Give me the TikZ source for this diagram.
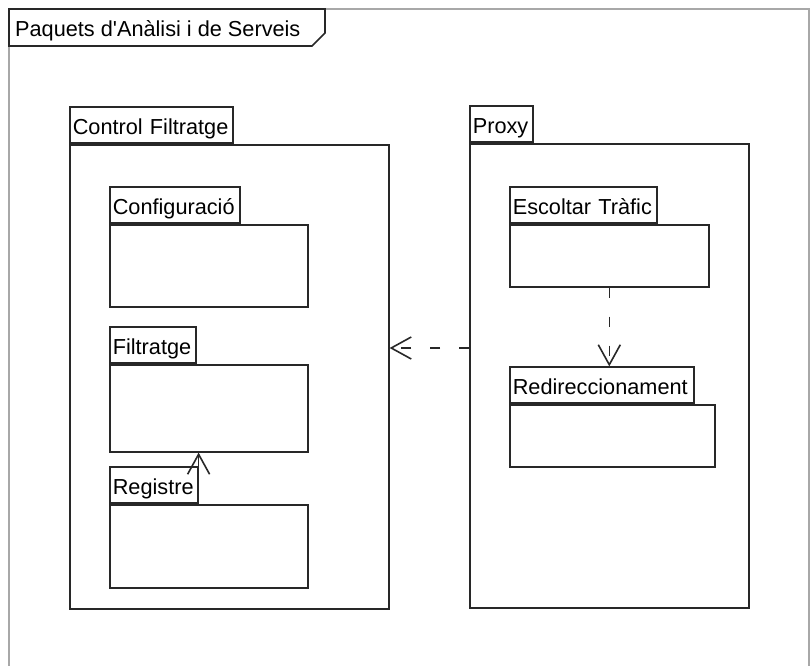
\documentclass[tikz,border=0pt]{standalone}
\usepackage{fontspec}
\setmainfont{Liberation Sans}
\usetikzlibrary{arrows.meta}
\definecolor{linecol}{RGB}{40,40,40}
\definecolor{framecol}{RGB}{168,168,168}
\begin{document}
\begin{tikzpicture}[x=1pt,y=-1pt,
  txt/.style={font=\fontsize{21.7pt}{25pt}\selectfont, text=black},
  pkgbody/.style={draw=linecol, line width=1.6pt, fill=white, anchor=north west,
    inner sep=0pt},
  pkgtab/.style={draw=linecol, line width=1.6pt, fill=white, anchor=south west, txt,
    inner xsep=3pt, inner ysep=0pt, minimum height=36pt,
    text height=18pt, text depth=0pt, align=left},
  depline/.style={draw=linecol, line width=1.6pt, dash pattern=on 10.5pt off 18.5pt},
  dephead/.style={-{Straight Barb[length=20pt,width=22pt,line width=1.6pt]}}
]
\useasboundingbox (0,0) rectangle (811,666);
\fill[white] (0,0) rectangle (811,666);

% outer frame (open at the bottom)
\draw[framecol, line width=1.6pt] (9,666) -- (9,9) -- (809,9) -- (809,666);
\node[txt, anchor=base west, inner sep=0pt] (title) at (15,37) {Paquets d\textquotesingle Anàlisi i de Serveis};
\draw[linecol, line width=1.6pt] (9,9) -- (325,9) -- (325,33) -- (312,46) -- (9,46) -- cycle;

% Control Filtratge
\node[pkgbody, minimum width=319pt, minimum height=464pt] (cfB) at (69,144) {};
\node[pkgtab, text width=157pt] (cfT) at (cfB.north west) {Control Filtratge};

\node[pkgbody, minimum width=198pt, minimum height=82pt] (cfgB) at (109,224) {};
\node[pkgtab, text width=124pt] (cfgT) at (cfgB.north west) {Configuració};

\node[pkgbody, minimum width=198pt, minimum height=87pt] (filB) at (109,364) {};
\node[pkgtab, text width=80pt] (filT) at (filB.north west) {Filtratge};

\node[pkgbody, minimum width=198pt, minimum height=83pt] (regB) at (109,504) {};
\node[pkgtab, text width=82pt] (regT) at (regB.north west) {Registre};

% Proxy
\node[pkgbody, minimum width=279pt, minimum height=464pt] (pxB) at (469,143) {};
\node[pkgtab, text width=57pt] (pxT) at (pxB.north west) {Proxy};

\node[pkgbody, minimum width=199pt, minimum height=62pt] (escB) at (509,224) {};
\node[pkgtab, text width=141pt] (escT) at (escB.north west) {Escoltar Tràfic};

\node[pkgbody, minimum width=205pt, minimum height=62pt] (redB) at (509,404) {};
\node[pkgtab, text width=178pt] (redT) at (redB.north west) {Redireccionament};

% dependencies
\coordinate (lvl) at (0,348);
\draw[depline, dephead] (pxB.west |- lvl) -- (cfB.east |- lvl);
\draw[depline, dephead] (escB.south) -- (redT.north -| escB.south);
\draw[depline, dephead] (regT.north east) -- (filB.south -| regT.north east);
\end{tikzpicture}
\end{document}
